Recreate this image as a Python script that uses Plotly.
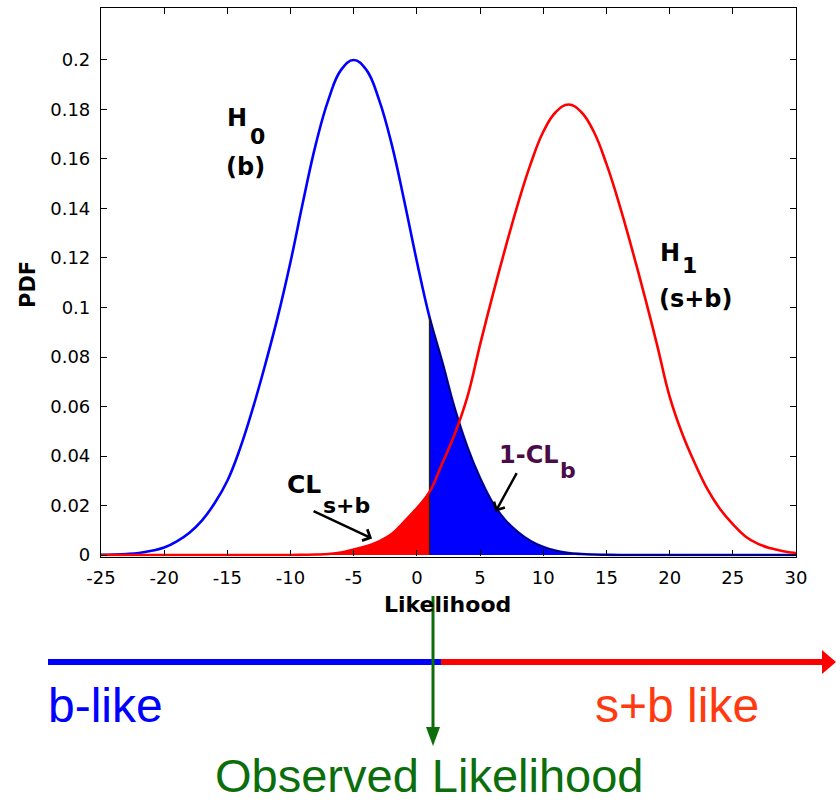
import plotly.graph_objects as go

W, H = 836, 802

# Likelihood grid and the two hypothesis densities sampled on it
likelihood = list(range(-25, 31))
pdf_b = [
    0.0001, 0.0002, 0.0004, 0.0008, 0.0017, 0.0030, 0.0055, 0.0090, 0.0140, 0.0210,  # -25 .. -16
    0.0300, 0.0430, 0.0590, 0.0770, 0.0965, 0.1185, 0.1430, 0.1660, 0.1840, 0.1960,  # -15 .. -6
    0.2000, 0.1960, 0.1840, 0.1660, 0.1430, 0.1185, 0.0960, 0.0780, 0.0590, 0.0435,  # -5 .. 4
    0.0310, 0.0210, 0.0140, 0.0092, 0.0056, 0.0032, 0.0017, 0.0008, 0.0004, 0.0002,  # 5 .. 14
    0.0001, 0.0, 0.0, 0.0, 0.0, 0.0, 0.0, 0.0, 0.0, 0.0,                             # 15 .. 24
    0.0, 0.0, 0.0, 0.0, 0.0, 0.0,                                                    # 25 .. 30
]
pdf_sb = [
    0.0, 0.0, 0.0, 0.0, 0.0, 0.0, 0.0, 0.0, 0.0, 0.0,                                # -25 .. -16
    0.0, 0.0, 0.0, 0.0, 0.0, 0.0, 0.0001, 0.0002, 0.0004, 0.0010,                    # -15 .. -6
    0.0022, 0.0035, 0.0055, 0.0085, 0.0135, 0.0190, 0.0255, 0.0370, 0.0490, 0.0640,  # -5 .. 4
    0.0850, 0.1050, 0.1240, 0.1420, 0.1580, 0.1710, 0.1790, 0.1820, 0.1790, 0.1710,  # 5 .. 14
    0.1580, 0.1420, 0.1240, 0.1050, 0.0850, 0.0640, 0.0490, 0.0370, 0.0265, 0.0185,  # 15 .. 24
    0.0125, 0.0075, 0.0045, 0.0027, 0.0015, 0.0008,                                  # 25 .. 30
]
observed = 1

x_ticks = list(range(-25, 31, 5))
x_tick_text = ["-25", "-20", "-15", "-10", "-5", "0", "5", "10", "15", "20", "25", "30"]
y_ticks = [0, 0.02, 0.04, 0.06, 0.08, 0.1, 0.12, 0.14, 0.16, 0.18, 0.2]
y_tick_text = ["0", "0.02", "0.04", "0.06", "0.08", "0.1", "0.12", "0.14", "0.16", "0.18", "0.2"]

BLUE = "#0000ff"
RED = "#ff0000"
GREEN = "#0b6e0b"
PURPLE = "#4a0b48"
TICK_FONT = "DejaVu Sans"
BIG_FONT = "Liberation Sans, Arial, sans-serif"


def px(x):
    return x / W


def py(y):
    return 1 - y / H


cut = likelihood.index(observed)

fig = go.Figure()

# H0 curve
fig.add_trace(go.Scatter(
    x=likelihood, y=pdf_b, mode="lines",
    line=dict(color=BLUE, width=2.6, shape="spline", smoothing=1.2),
    hoverinfo="skip", showlegend=False))

# CL_s+b : H1 tail left of the observed value
fig.add_trace(go.Scatter(
    x=likelihood[:cut + 1], y=pdf_sb[:cut + 1], mode="lines", fill="tozeroy",
    fillcolor=RED, line=dict(color="#300000", width=0.8, shape="spline", smoothing=1.2),
    hoverinfo="skip", showlegend=False))

# 1-CL_b : H0 tail right of the observed value
fig.add_trace(go.Scatter(
    x=likelihood[cut:], y=pdf_b[cut:], mode="lines", fill="tozeroy",
    fillcolor=BLUE, line=dict(color="#000000", width=1.0, shape="spline", smoothing=1.2),
    hoverinfo="skip", showlegend=False))

# edge of the shaded regions at the observed value
fig.add_trace(go.Scatter(
    x=[observed, observed], y=[0, pdf_b[cut]], mode="lines",
    line=dict(color="#202020", width=1.4), hoverinfo="skip", showlegend=False))

# H1 curve
fig.add_trace(go.Scatter(
    x=likelihood, y=pdf_sb, mode="lines",
    line=dict(color=RED, width=2.6, shape="spline", smoothing=1.2),
    hoverinfo="skip", showlegend=False))

axis_common = dict(
    showline=True, linecolor="black", linewidth=1.2, mirror="ticks",
    ticks="inside", ticklen=6, tickcolor="black", tickwidth=1,
    showgrid=False, zeroline=False, automargin=False,
    tickfont=dict(family=TICK_FONT, size=18, color="black"),
)

fig.update_layout(
    width=W, height=H,
    margin=dict(l=0, r=0, t=0, b=0, pad=0, autoexpand=False),
    paper_bgcolor="white", plot_bgcolor="white",
    xaxis=dict(range=[-25, 30], domain=[px(101), px(796)],
               tickvals=x_ticks, ticktext=x_tick_text, ticklabelstandoff=5, **axis_common),
    yaxis=dict(range=[-0.0006, 0.2212], domain=[py(556.5), py(7.5)],
               tickvals=y_ticks, ticktext=y_tick_text, ticklabelstandoff=6, **axis_common),
)

bold = dict(family="DejaVu Sans", color="black")
anns = [
    # axis titles
    dict(x=px(447), y=py(604), xref="paper", yref="paper", text="<b>Likelihood</b>",
         xanchor="center", font=dict(size=22, **bold)),
    dict(x=px(28), y=py(285), xref="paper", yref="paper", text="<b>PDF</b>", textangle=-90,
         xanchor="center", font=dict(size=21, **bold)),
    # hypothesis labels
    dict(x=-15.2, y=0.1765, text="<b>H</b>", xanchor="left", font=dict(size=24, **bold)),
    dict(x=-13.35, y=0.1690, text="<b>0</b>", xanchor="left", font=dict(size=22, **bold)),
    dict(x=-15.25, y=0.1568, text="<b>(b)</b>", xanchor="left", font=dict(size=24, **bold)),
    dict(x=19.05, y=0.1222, text="<b>H</b>", xanchor="left", font=dict(size=24, **bold)),
    dict(x=20.8, y=0.1168, text="<b>1</b>", xanchor="left", font=dict(size=22, **bold)),
    dict(x=19.0, y=0.1034, text="<b>(s+b)</b>", xanchor="left", font=dict(size=24, **bold)),
    # confidence-level labels
    dict(x=-10.4, y=0.0283, text="<b>CL</b>", xanchor="left", font=dict(size=25, **bold)),
    dict(x=-7.6, y=0.0202, text="<b>s+b</b>", xanchor="left", font=dict(size=22, **bold)),
    dict(x=-3.55, y=0.0067, ax=-60, ay=-28, text="", showarrow=True, arrowhead=4,
         arrowsize=1, arrowwidth=2.4, arrowcolor="black"),
    dict(x=6.3, y=0.0404, text="<b>1-CL</b>", xanchor="left",
         font=dict(size=24, family="DejaVu Sans", color=PURPLE)),
    dict(x=11.2, y=0.0343, text="<b>b</b>", xanchor="left",
         font=dict(size=22, family="DejaVu Sans", color=PURPLE)),
    dict(x=6.22, y=0.0175, ax=22, ay=-40, text="", showarrow=True, arrowhead=4,
         arrowsize=1, arrowwidth=2.4, arrowcolor="black"),
    # classification labels below the plot
    dict(x=px(46), y=py(705), xref="paper", yref="paper", text="b-like", xanchor="left",
         font=dict(size=48, family=BIG_FONT, color=BLUE)),
    dict(x=px(593), y=py(705), xref="paper", yref="paper", text="s+b like", xanchor="left",
         font=dict(size=48, family=BIG_FONT, color="#ff3a10")),
    dict(x=px(430), y=py(775), xref="paper", yref="paper", text="Observed Likelihood",
         xanchor="center", font=dict(size=47, family=BIG_FONT, color=GREEN)),
]
for a in anns:
    a.setdefault("showarrow", False)
    if not a["showarrow"]:
        a["yanchor"] = "middle"
    fig.add_annotation(**a)

# b-like / s+b-like axis and the observed-value marker
shapes = [
    dict(type="line", x0=px(48), x1=px(441), y0=py(662), y1=py(662),
         line=dict(color=BLUE, width=6)),
    dict(type="line", x0=px(441), x1=px(825), y0=py(662), y1=py(662),
         line=dict(color=RED, width=6)),
    dict(type="path",
         path=f"M {px(822)} {py(650)} L {px(836)} {py(662)} L {px(822)} {py(674)} Z",
         fillcolor=RED, line=dict(color=RED, width=0)),
    dict(type="line", x0=px(433), x1=px(433), y0=py(596), y1=py(732),
         line=dict(color=GREEN, width=3)),
    dict(type="path",
         path=f"M {px(426)} {py(727)} L {px(440)} {py(727)} L {px(433)} {py(746)} Z",
         fillcolor=GREEN, line=dict(color=GREEN, width=0)),
]
for s in shapes:
    s["xref"] = "paper"
    s["yref"] = "paper"
    s["layer"] = "above"
    fig.add_shape(**s)

fig.write_html("out.html")
